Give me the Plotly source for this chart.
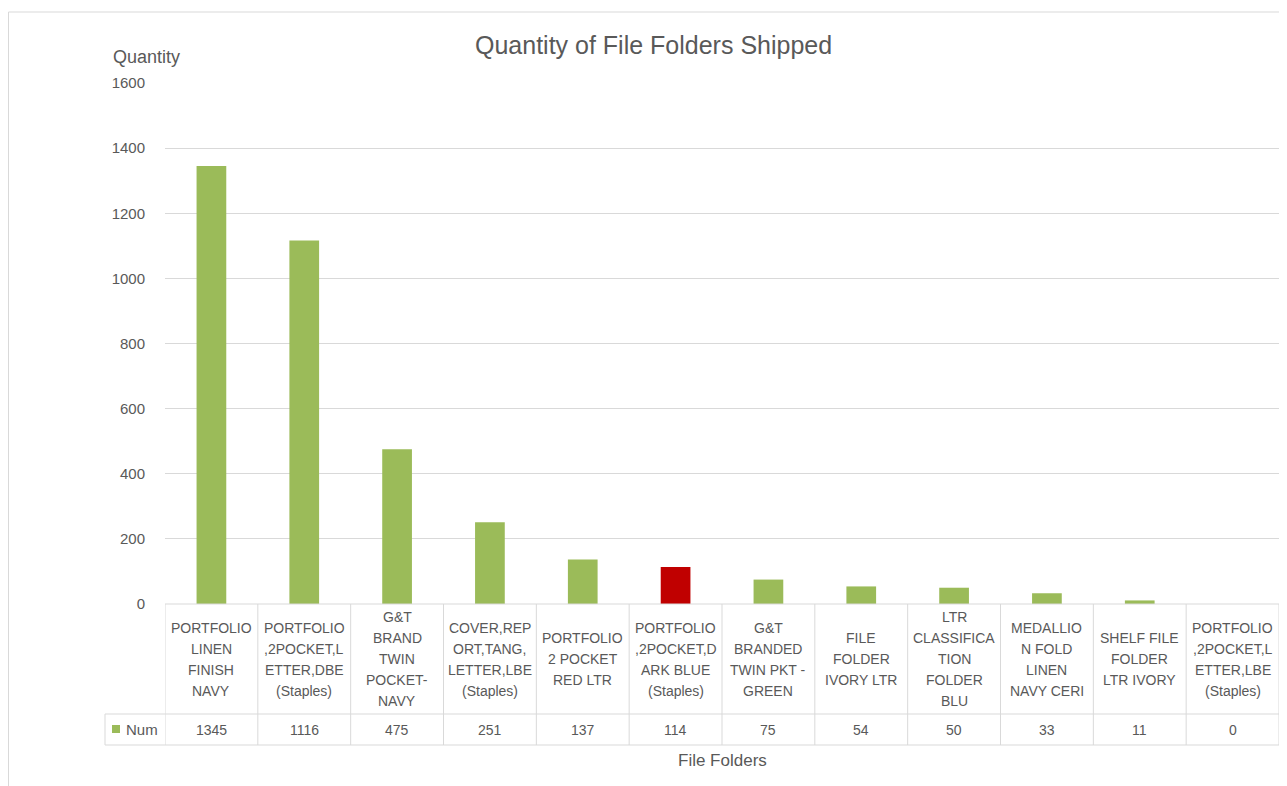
import plotly.graph_objects as go

W, H = 1287, 786

# data
folder_labels = [
    "PORTFOLIO<br>LINEN<br>FINISH<br>NAVY",
    "PORTFOLIO<br>,2POCKET,L<br>ETTER,DBE<br>(Staples)",
    "G&T<br>BRAND<br>TWIN<br>POCKET-<br>NAVY",
    "COVER,REP<br>ORT,TANG,<br>LETTER,LBE<br>(Staples)",
    "PORTFOLIO<br>2 POCKET<br>RED LTR",
    "PORTFOLIO<br>,2POCKET,D<br>ARK BLUE<br>(Staples)",
    "G&T<br>BRANDED<br>TWIN PKT -<br>GREEN",
    "FILE<br>FOLDER<br>IVORY LTR",
    "LTR<br>CLASSIFICA<br>TION<br>FOLDER<br>BLU",
    "MEDALLIO<br>N FOLD<br>LINEN<br>NAVY CERI",
    "SHELF FILE<br>FOLDER<br>LTR IVORY",
    "PORTFOLIO<br>,2POCKET,L<br>ETTER,LBE<br>(Staples)",
]
num = [1345, 1116, 475, 251, 137, 114, 75, 54, 50, 33, 11, 0]
highlight = 5  # the red bar
y_ticks = [0, 200, 400, 600, 800, 1000, 1200, 1400, 1600]

GREEN = "#9BBB59"
RED = "#C00000"
TXT = "#595959"
GRID = "#D9D9D9"
FONT = "Liberation Sans"

OFF = 8  # page body margin


def px_x(x):
    # page pixel -> paper fraction
    return (x - OFF) / W


def px_y(y):
    return 1 - (y - OFF) / H


x0, x1 = 165, 1279      # plot area, page pixels
y_top, y_zero = 83, 604
y_row1, y_row2 = 714, 745

idx = list(range(len(num)))
colors = [RED if i == highlight else GREEN for i in idx]

fig = go.Figure(go.Bar(x=idx, y=num, marker_color=colors, marker_line_width=0,
                       showlegend=False, hoverinfo="y"))

shapes = []
line = dict(color=GRID, width=1)
# table horizontal lines
for yy in (y_row1, y_row2):
    shapes.append(dict(type="line", xref="paper", yref="paper",
                       x0=px_x(105), x1=px_x(x1), y0=px_y(yy), y1=px_y(yy), line=line))
shapes.append(dict(type="line", xref="paper", yref="paper",
                   x0=px_x(x0), x1=px_x(x1), y0=px_y(y_zero), y1=px_y(y_zero), line=line))
# table vertical lines
for i in range(len(num) + 1):
    shapes.append(dict(type="line", xref="x", yref="paper", x0=i - 0.5, x1=i - 0.5,
                       y0=px_y(y_row2), y1=px_y(y_zero), line=line))
shapes.append(dict(type="line", xref="paper", yref="paper", x0=px_x(105), x1=px_x(105),
                   y0=px_y(y_row2), y1=px_y(y_row1), line=line))
# legend key in table
shapes.append(dict(type="rect", xref="paper", yref="paper", x0=px_x(112), x1=px_x(120),
                   y0=px_y(733), y1=px_y(725), fillcolor=GREEN, line_width=0))
# chart border
shapes.append(dict(type="line", xref="paper", yref="paper", x0=px_x(8.5), x1=1,
                   y0=px_y(12), y1=px_y(12), line=line))
shapes.append(dict(type="line", xref="paper", yref="paper", x0=px_x(8.5), x1=px_x(8.5),
                   y0=px_y(12), y1=0, line=line))

annotations = []
lh = 21
for i, lab in enumerate(folder_labels):
    parts = lab.split("<br>")
    n = len(parts)
    for k, p in enumerate(parts):
        annotations.append(dict(x=i, xref="x", y=px_y((y_zero + y_row1) / 2), yref="paper",
                                text=p, showarrow=False, yanchor="middle",
                                yshift=((n - 1) / 2 - k) * lh,
                                font=dict(size=14, color=TXT, family=FONT)))
    annotations.append(dict(x=i, xref="x", y=px_y((y_row1 + y_row2) / 2), yref="paper",
                            text=str(num[i]), showarrow=False, yanchor="middle",
                            font=dict(size=14, color=TXT, family=FONT)))
annotations.append(dict(x=px_x(124), xref="paper", y=px_y((y_row1 + y_row2) / 2), yref="paper",
                        text="Num", showarrow=False, xanchor="left", yanchor="middle",
                        font=dict(size=15, color=TXT, family=FONT)))
annotations.append(dict(x=px_x(111), xref="paper", y=px_y(57), yref="paper",
                        text="Quantity", showarrow=False, xanchor="left", yanchor="middle",
                        font=dict(size=18, color=TXT, family=FONT)))
annotations.append(dict(x=px_x((x0 + x1) / 2), xref="paper", y=px_y(760), yref="paper",
                        text="File Folders", showarrow=False, yanchor="middle",
                        font=dict(size=17, color=TXT, family=FONT)))
annotations.append(dict(x=px_x(654), xref="paper", y=px_y(45), yref="paper",
                        text="Quantity of File Folders Shipped", showarrow=False,
                        yanchor="middle",
                        font=dict(size=25, color=TXT, family=FONT)))

fig.update_layout(
    width=W, height=H,
    margin=dict(l=0, r=0, t=0, b=0),
    plot_bgcolor="white", paper_bgcolor="white",
    bargap=0.68,
    shapes=shapes,
    annotations=annotations,
    xaxis=dict(domain=[px_x(x0), px_x(x1)], range=[-0.5, len(num) - 0.5],
               showticklabels=False, showgrid=False, zeroline=False, showline=False,
               ticks="", automargin=False),
    yaxis=dict(domain=[px_y(y_zero), px_y(y_top)], range=[0, 1600], tickvals=y_ticks,
               showgrid=True, gridcolor=GRID, gridwidth=1, zeroline=False, showline=False,
               ticks="outside", ticklen=16, tickcolor="rgba(0,0,0,0)", automargin=False,
               tickfont=dict(size=15, color=TXT, family=FONT)),
)

fig.write_html("out.html")
